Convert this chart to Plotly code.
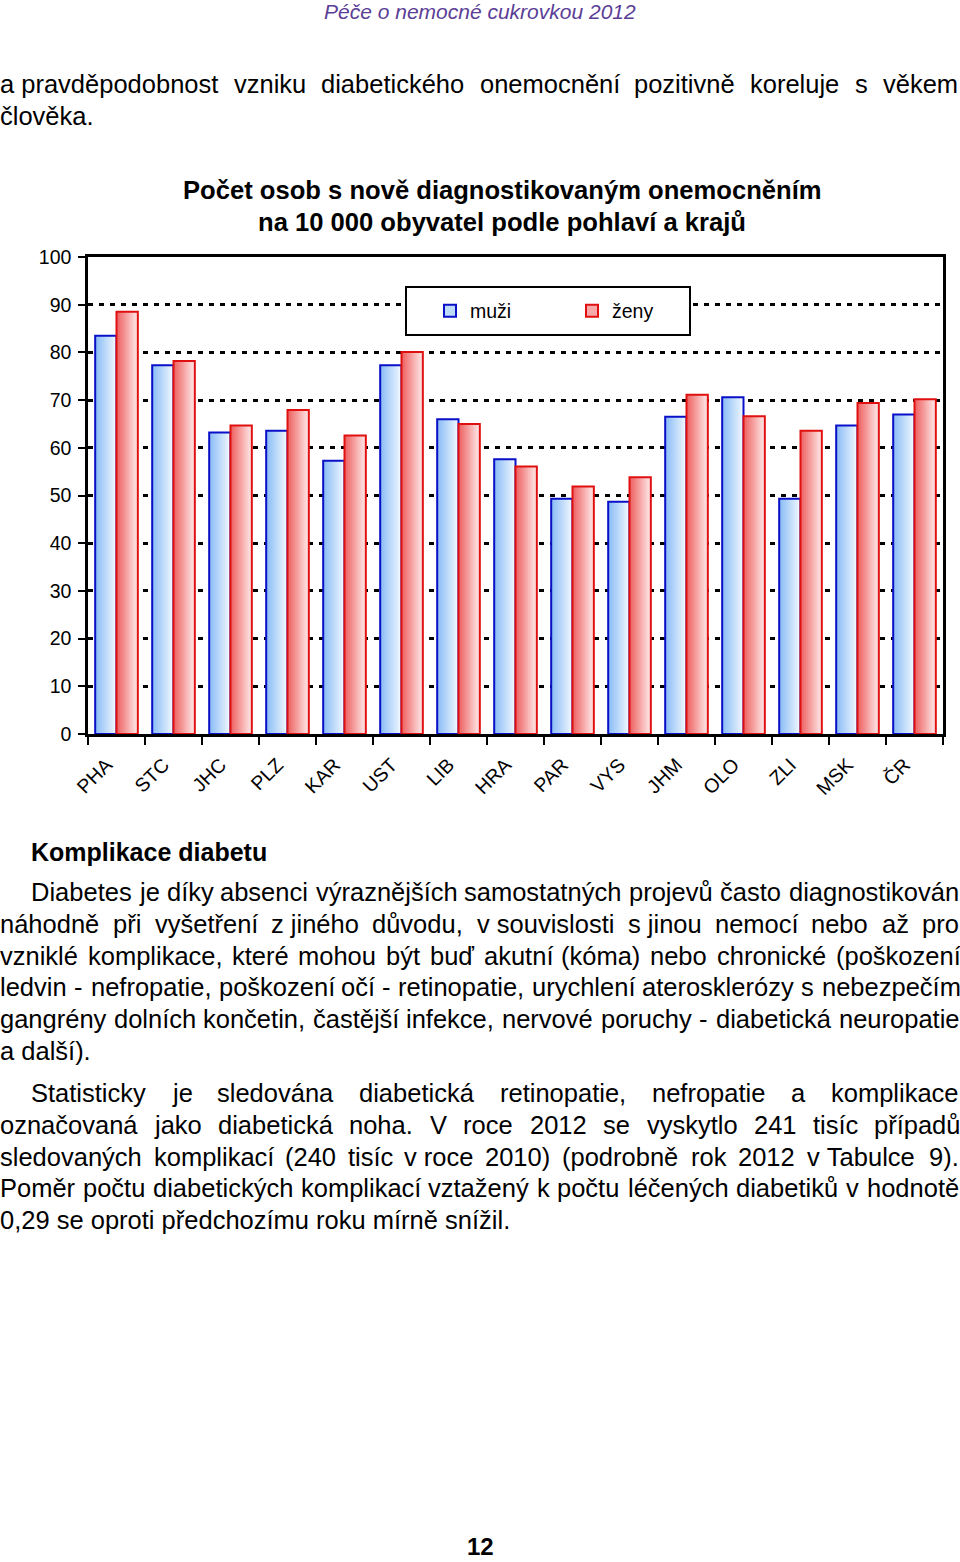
import unicodedata
import plotly.graph_objects as go

# ---------------- data ----------------
regions = ["PHA", "STC", "JHC", "PLZ", "KAR", "UST", "LIB", "HRA",
           "PAR", "VYS", "JHM", "OLO", "ZLI", "MSK", "ČR"]
muzi = [83.5, 77.3, 63.2, 63.6, 57.3, 77.3, 66.0, 57.6,
        49.3, 48.7, 66.5, 70.6, 49.3, 64.7, 67.0]
zeny = [88.5, 78.2, 64.7, 67.9, 62.6, 80.1, 65.0, 56.1,
        51.9, 53.8, 71.1, 66.6, 63.6, 69.4, 70.2]
series_names = ["muži", "ženy"]
y_ticks = [0, 10, 20, 30, 40, 50, 60, 70, 80, 90, 100]

chart_title = ["Počet osob s nově diagnostikovaným onemocněním",
               "na 10 000 obyvatel podle pohlaví a krajů"]
page_header = "Péče o nemocné cukrovkou 2012"
page_number = "12"
heading = "Komplikace diabetu"
NB = "\u00a0"
intro_lines = ["a" + NB + "pravděpodobnost vzniku diabetického onemocnění pozitivně koreluje s věkem",
               "člověka."]
para1_lines = ["Diabetes je díky absenci výraznějších samostatných projevů často diagnostikován",
               "náhodně při vyšetření z" + NB + "jiného důvodu, v" + NB + "souvislosti s" + NB + "jinou nemocí nebo až pro",
               "vzniklé komplikace, které mohou být buď akutní (kóma) nebo chronické (poškození",
               "ledvin - nefropatie, poškození očí - retinopatie, urychlení aterosklerózy s nebezpečím",
               "gangrény dolních končetin, častější infekce, nervové poruchy - diabetická neuropatie",
               "a další)."]
para2_lines = ["Statisticky je sledována diabetická retinopatie, nefropatie a komplikace",
               "označovaná jako diabetická noha. V roce 2012 se vyskytlo 241 tisíc případů",
               "sledovaných komplikací (240 tisíc v" + NB + "roce 2010) (podrobně rok 2012 v" + NB + "Tabulce 9).",
               "Poměr počtu diabetických komplikací vztažený k počtu léčených diabetiků v hodnotě",
               "0,29 se oproti předchozímu roku mírně snížil."]

# ---------------- page geometry ----------------
W_PX, H_PX = 960, 1562
PLOT_L, PLOT_R, PLOT_T, PLOT_B = 88, 943, 257, 734
FONT = "Liberation Sans, Arial, sans-serif"
BODY = 25.5


def px(x):
    return x / W_PX


def py(y):
    return 1 - y / H_PX


# Arial / Liberation Sans advance widths (1/1000 em)
ADV = {" ": 278, NB: 278, ",": 278, ".": 278, "(": 333, ")": 333, "-": 333, ":": 278,
       "a": 556, "b": 556, "c": 500, "d": 556, "e": 556, "f": 278, "g": 556, "h": 556,
       "i": 222, "j": 222, "k": 500, "l": 222, "m": 833, "n": 556, "o": 556, "p": 556,
       "q": 556, "r": 333, "s": 500, "t": 278, "u": 556, "v": 500, "w": 722, "x": 500,
       "y": 500, "z": 500, "ď": 615,
       "A": 667, "B": 667, "C": 722, "D": 722, "E": 667, "F": 611, "G": 778, "H": 722,
       "I": 278, "J": 500, "K": 667, "L": 556, "M": 833, "N": 722, "O": 778, "P": 667,
       "R": 722, "S": 667, "T": 611, "U": 722, "V": 667, "Z": 611}
for d in "0123456789":
    ADV[d] = 556


def text_w(s, size):
    tot = 0
    for ch in s:
        if ch in ADV:
            tot += ADV[ch]
        else:
            tot += ADV.get(unicodedata.normalize("NFD", ch)[0], 556)
    return tot * size / 1000.0


annotations = []


def add_text(text, x, y, size=BODY, anchor="left", **font_kw):
    annotations.append(dict(text=text, x=px(x), y=py(y), xref="paper", yref="paper",
                            xanchor=anchor, yanchor="middle", showarrow=False,
                            borderpad=0, borderwidth=0,
                            font=dict(family=FONT, size=size, color="black", **font_kw)))


def add_line(line, x_left, y, justify, x_right=W_PX - 1):
    if not justify:
        add_text(line, x_left, y)
        return
    words = line.split(" ")
    widths = [text_w(w, BODY) for w in words]
    gap = (x_right - x_left - sum(widths)) / (len(words) - 1)
    x = x_left
    for w, wd in zip(words, widths):
        add_text(w, x, y)
        x += wd + gap


# header / page number
add_text(page_header, 480, 12, size=21, anchor="center", style="italic")
annotations[-1]["font"]["color"] = "#5b3e96"
add_text(page_number, 480, 1546, size=24, anchor="center", weight="bold")

# intro
add_line(intro_lines[0], 0, 84, True, 958)
add_line(intro_lines[1], 0, 116, False)

# chart title
add_text(chart_title[0], 502, 190, size=25.6, anchor="center", weight="bold")
add_text(chart_title[1], 502, 222, size=25.6, anchor="center", weight="bold")

# heading + paragraphs
add_text(heading, 31, 852, size=25, weight="bold")
for i, ln in enumerate(para1_lines):
    add_line(ln, 31 if i == 0 else 0, 892 + i * 31.8, i < len(para1_lines) - 1)
for i, ln in enumerate(para2_lines):
    add_line(ln, 31 if i == 0 else 0, 1093 + i * 31.8, i < len(para2_lines) - 1)

# ---------------- bars ----------------
fig = go.Figure()
BW = 0.374
N = 12
styles = [
    (muzi, -BW, (140, 190, 245), (238, 246, 255), "#0a10c8", "rgb(190,219,250)", "legend"),
    (zeny, 0.0, (238, 100, 100), (255, 230, 230), "#e01010", "rgb(248,168,168)", "legend2"),
]
for (vals, off, cl, cr, edge, mid, leg), name in zip(styles, series_names):
    for i in range(N):
        t = i / (N - 1)
        col = "rgb(%d,%d,%d)" % tuple(round(a + (b - a) * t) for a, b in zip(cl, cr))
        fig.add_trace(go.Bar(x=regions, y=vals, offset=off + i * BW / N,
                             width=BW * (1 - i / N),
                             marker=dict(color=col, line=dict(width=0)),
                             showlegend=False, hoverinfo="skip"))
    fig.add_trace(go.Bar(x=regions, y=vals, offset=off, width=BW, name=name,
                         marker=dict(color="rgba(0,0,0,0)", line=dict(color=edge, width=2)),
                         showlegend=False))
    fig.add_trace(go.Bar(x=regions, y=[None] * len(regions), name=name, legend=leg,
                         marker=dict(color=mid, line=dict(color=edge, width=2)),
                         showlegend=True, hoverinfo="skip"))

# legend box
shapes = [dict(type="rect", xref="paper", yref="paper",
               x0=px(406), x1=px(690), y0=py(335), y1=py(287),
               line=dict(color="black", width=2), fillcolor="white", layer="above")]

fig.update_layout(
    template="none",
    width=W_PX, height=H_PX, autosize=False,
    margin=dict(l=0, r=0, t=0, b=0, pad=0, autoexpand=False),
    paper_bgcolor="white", plot_bgcolor="white",
    barmode="overlay",
    font=dict(family=FONT, color="black"),
    annotations=annotations,
    shapes=shapes,
    legend=dict(x=px(430), y=py(311), xanchor="left", yanchor="middle",
                orientation="h", bgcolor="rgba(0,0,0,0)", borderwidth=0,
                font=dict(family=FONT, size=19.5, color="black")),
    legend2=dict(x=px(572), y=py(311), xanchor="left", yanchor="middle",
                 orientation="h", bgcolor="rgba(0,0,0,0)", borderwidth=0,
                 font=dict(family=FONT, size=19.5, color="black")),
    xaxis=dict(domain=[px(PLOT_L), px(PLOT_R)], type="category", automargin=False,
               tickson="boundaries", ticks="outside", ticklen=8, tickwidth=2,
               tickcolor="black", tickangle=-45,
               ticklabelshift=-10, ticklabelstandoff=9,
               tickfont=dict(family=FONT, size=19.5, color="black"),
               showline=True, linecolor="black", linewidth=2.5, mirror=True,
               showgrid=False, zeroline=False),
    yaxis=dict(domain=[py(PLOT_B), py(PLOT_T)], range=[0, 100], automargin=False,
               tickmode="array", tickvals=y_ticks,
               ticks="outside", ticklen=7, tickwidth=2, tickcolor="black",
               ticklabelstandoff=3,
               tickfont=dict(family=FONT, size=19.5, color="black"),
               showline=True, linecolor="black", linewidth=2.5, mirror=True,
               showgrid=True, gridcolor="black", gridwidth=2.5, griddash="5px,6px",
               zeroline=False),
)

fig.write_html("out.html",
               config={"displayModeBar": False},
               post_script="document.body.style.margin='0px';"
                           "document.documentElement.style.overflow='hidden';")
